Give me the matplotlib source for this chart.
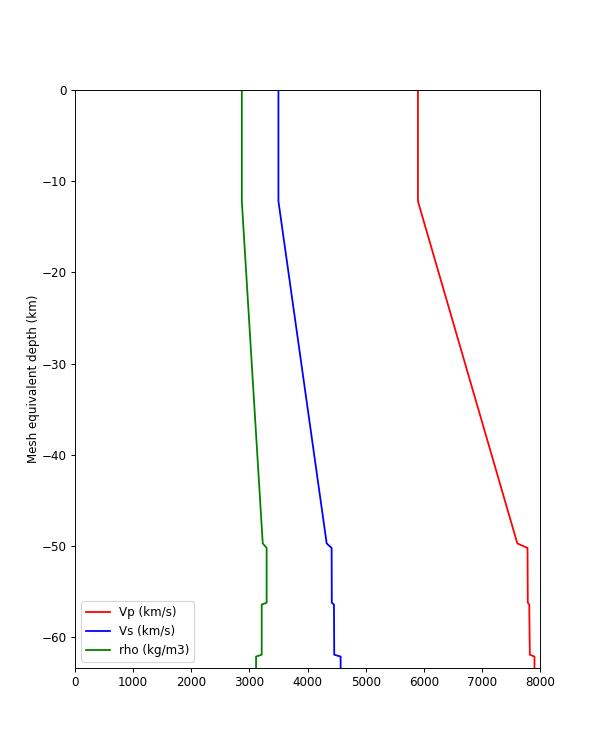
import numpy as np
import matplotlib
matplotlib.use("Agg")
from matplotlib import pyplot as plt

# depth profile (km, negative downward) and material values
depth = [0, -12.2, -49.7, -50.2, -56.2, -56.4, -61.9, -62.1, -63.3]
vp = [5900, 5900, 7610, 7785, 7790, 7815, 7825, 7905, 7905]
vs = [3500, 3500, 4330, 4415, 4418, 4455, 4460, 4570, 4570]
rho = [2870, 2870, 3230, 3297, 3297, 3212, 3212, 3115, 3115]


def data_plot():
    fig = plt.figure(figsize=(7, 8.75), dpi=600 / 7)
    ax = fig.add_subplot(1, 1, 1)
    ax.plot(vp, depth, color="red", label="Vp (km/s)")
    ax.plot(vs, depth, color="blue", label="Vs (km/s)")
    ax.plot(rho, depth, color="green", label="rho (kg/m3)")
    ax.set_ylabel("Mesh equivalent depth (km)", labelpad=1)
    ax.set_xlim(0, 8000)
    ax.set_ylim(min(depth), 0)
    ax.legend(loc="lower left")
    fig.savefig("out.png", dpi=600 / 7)
    return ax


if __name__ == '__main__':
    data_plot()
